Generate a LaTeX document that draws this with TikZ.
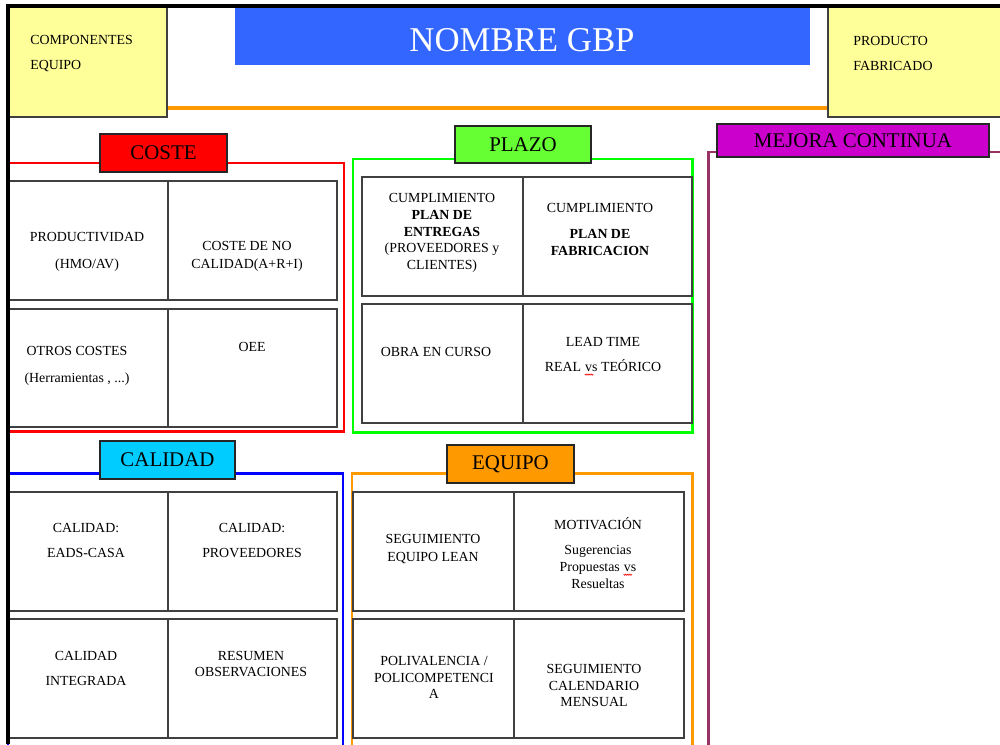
\documentclass[tikz,border=0pt]{standalone}
\usepackage{fontspec}
\setmainfont{Liberation Serif}

\definecolor{gbpblue}{RGB}{51,102,255}
\definecolor{notepad}{RGB}{255,255,153}
\definecolor{costered}{RGB}{255,0,0}
\definecolor{plazogreen}{RGB}{102,255,51}
\definecolor{framegreen}{RGB}{0,255,0}
\definecolor{calidadcyan}{RGB}{0,204,255}
\definecolor{frameblue}{RGB}{0,0,255}
\definecolor{equipoorange}{RGB}{255,153,0}
\definecolor{mejorapink}{RGB}{204,0,204}
\definecolor{mejoraframe}{RGB}{153,51,102}
\definecolor{cellgray}{RGB}{64,64,64}

\newcommand{\cellsize}{\fontsize{7.9}{9.6}\selectfont}
% palabra subrayada con onda roja
\newcommand{\spellvs}[1]{\tikz[baseline=(w.base)]{\node[inner sep=0pt] (w) {#1};
    \draw[red,line width=0.35pt] ([yshift=-1.3pt]w.base west)
      \foreach \k in {1,...,4} {-- ++(0.6pt,-0.7pt) -- ++(0.6pt,0.7pt)};}}

\begin{document}
\begin{tikzpicture}[x=0.02cm,y=-0.02cm,
    cell/.style={draw=cellgray,line width=1pt},
    frame/.style={line width=1.7pt},
    tag/.style={draw=black!85,line width=1pt,inner sep=0pt,
      font=\fontsize{11.9}{14}\selectfont},
    txt/.style={font=\cellsize,align=center,inner sep=0pt}]
    \useasboundingbox (0,0) rectangle (1000,744);

    % cabecera
    \fill[gbpblue] (235,7) rectangle (810,65);
    \node[white,font=\fontsize{19.8}{24}\selectfont,inner sep=0pt] (nombre) at (522,40) {NOMBRE GBP};
    \draw[equipoorange,line width=2pt] (167,108) -- (828,108);
    \filldraw[fill=notepad,draw=cellgray,line width=1pt] (8,6) rectangle (167,117);
    \filldraw[fill=notepad,draw=cellgray,line width=1pt] (828,6) rectangle (1010,117);
    \node[txt,align=left,anchor=west] (componentes) at (30,53.5) {COMPONENTES\\[4.6pt]EQUIPO};
    \node[txt,align=left,anchor=west] (producto) at (853,53.5) {PRODUCTO\\[4.6pt]FABRICADO};

    % marcos
    \draw[frame,costered] (8,163) rectangle (344,431);
    \draw[frame,framegreen] (353,159) rectangle (692,432);
    \draw[frame,frameblue] (8,473) rectangle (343,760);
    \draw[frame,equipoorange] (352,473) rectangle (692,760);
    \draw[frame,mejoraframe] (708,152) rectangle (1010,760);

    % celdas
    \draw[cell] (8,181) rectangle (337,300) (168,181) -- (168,300);
    \draw[cell] (8,309) rectangle (337,427) (168,309) -- (168,427);
    \draw[cell] (362,177) rectangle (692,296) (523,177) -- (523,296);
    \draw[cell] (362,304) rectangle (692,423) (523,304) -- (523,423);
    \draw[cell] (8,492) rectangle (337,611) (168,492) -- (168,611);
    \draw[cell] (8,619) rectangle (337,738) (168,619) -- (168,738);
    \draw[cell] (353,492) rectangle (684,611) (514,492) -- (514,611);
    \draw[cell] (353,619) rectangle (684,738) (514,619) -- (514,738);

    % titulos
    \node[tag,fill=costered,minimum width=127*0.02cm,minimum height=38*0.02cm] (coste) at (163.5,153) {COSTE};
    \node[tag,fill=plazogreen,minimum width=136*0.02cm,minimum height=37*0.02cm] (plazo) at (523,144.5) {PLAZO};
    \node[tag,fill=calidadcyan,minimum width=135*0.02cm,minimum height=38*0.02cm] (calidad) at (167.5,460) {CALIDAD};
    \node[tag,fill=equipoorange,minimum width=127*0.02cm,minimum height=38*0.02cm] (equipo) at (510.5,464) {EQUIPO};
    \node[tag,fill=mejorapink,minimum width=272*0.02cm,minimum height=33*0.02cm] (mejora) at (853,140.5) {MEJORA CONTINUA};

    % coste
    \node[txt] (productividad) at (87,251.5) {PRODUCTIVIDAD\\[5.7pt](HMO/AV)};
    \node[txt] (nocalidad) at (247,256) {COSTE DE NO\\[0.6pt]CALIDAD(A+R+I)};
    \node[txt] (otros) at (77,365.5) {OTROS COSTES\\[5.7pt](Herramientas , ...)};
    \node[txt] (oee) at (252,347) {OEE};

    % plazo
    \node[txt] (entregas) at (442,233) {CUMPLIMIENTO\\\textbf{PLAN DE}\\\textbf{ENTREGAS}\\(PROVEEDORES y\\CLIENTES)};
    \node[txt] (fabricacion) at (600,229.5) {CUMPLIMIENTO\\[5.1pt]\textbf{PLAN DE}\\\textbf{FABRICACION}};
    \node[txt] (obra) at (436,352) {OBRA EN CURSO};
    \node[txt] (leadtime) at (603,356.5) {LEAD TIME\\[4.6pt]REAL \spellvs{vs} TEÓRICO};

    % calidad
    \node[txt] (eads) at (86,540.5) {CALIDAD:\\[4.6pt]EADS-CASA};
    \node[txt] (proveedores) at (252,540.5) {CALIDAD:\\[4.6pt]PROVEEDORES};
    \node[txt] (integrada) at (86,668.5) {CALIDAD\\[4.6pt]INTEGRADA};
    \node[txt] (resumen) at (251,664) {RESUMEN\\[-0.5pt]OBSERVACIONES};

    % equipo
    \node[txt] (lean) at (433,549) {SEGUIMIENTO\\[0.6pt]EQUIPO LEAN};
    \node[txt] (motivacion) at (598,553) {MOTIVACIÓN\\[5.1pt]Sugerencias\\Propuestas \spellvs{vs}\\Resueltas};
    \node[txt] (polivalencia) at (434,677.5) {POLIVALENCIA /\\POLICOMPETENCI\\A};
    \node[txt] (calendario) at (594,685.5) {SEGUIMIENTO\\CALENDARIO\\MENSUAL};

    \draw[line width=2pt] (8,744) -- (8,6) -- (1000,6);
\end{tikzpicture}
\end{document}
